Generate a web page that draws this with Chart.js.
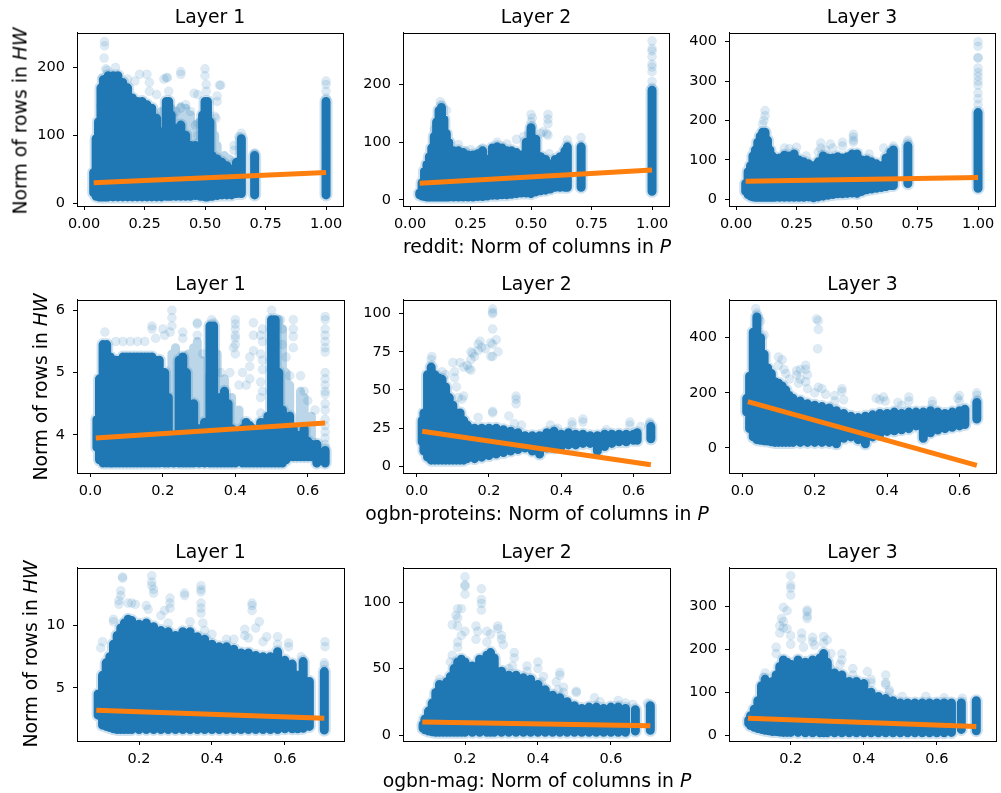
<!DOCTYPE html>
<html>
<head>
<meta charset="utf-8">
<script src="https://cdn.jsdelivr.net/npm/chart.js@4"></script>
<style>
    body { margin: 0; background: #fff; }
    #fig { position: relative; width: 1001px; height: 793px; overflow: hidden; font-family: "DejaVu Sans", sans-serif; color: #000; }
    #fig canvas { position: absolute; }
    .lbl { position: absolute; font-size: 18.8px; white-space: nowrap; transform: translate(-50%, -50%); }
    .lbl.rot { transform: translate(-50%, -50%) rotate(-90deg); }
</style>
</head>
<body>
<div id="fig"></div>
<script>
// =============================================
// DATA: reddit (baris 1)
// strip = kolom padat (x, bawah, atas), dot = titik lepas, fit = garis regresi
// =============================================
const xTicksReddit = [0, 0.25, 0.5, 0.75, 1];
const p1YTicks = [0, 100, 200];
const p1StripX = [.04,.05,.06,.07,.08,.09,.10,.12,.14,.16,.18,.20,.22,.24,.26,.28,.30,.32,.34,.35,.36,.38,.40,.42,.44,.46,.48,.49,.50,.51,.52,.53,.55,.57,.59,.61,.63,.65,.705,1];
const p1StripLo = [15,10,9,9,9,9,9,9,9,9,9,9,9,9,9,9,9,9,10,10,10,10,10,10,10,11,10,10,9,9,10,10,11,12,12,12,14,14,12,12];
const p1StripHi = [45,95,120,170,182,184,188,188,188,178,170,155,150,150,145,140,125,105,150,150,130,110,115,100,85,85,75,130,150,150,120,70,65,60,55,50,60,95,70,150];
const p1SoftX = [.32,.36,.38,.40,.42,.44,.46,.48,.53,.54,.55,.58,.60];
const p1SoftLo = [105,130,110,115,100,85,85,75,70,65,65,55,50];
const p1SoftHi = [135,140,135,142,140,130,115,120,115,100,85,70,65];
const p1DotX = [.085,.085,.083,.09,.095,.13,.075,.07,.066,.26,.23,.27,.27,.34,.345,.33,.35,.40,.40,.50,.50,.505,.505,.47,.455,.565,.56,.55,.55,.545,.54,.40,.42,.44,.38,.46,.47,.47,.65,.64,.65,.62,.62,.705,.705,.705,1,1,1,1,.18,.21,.30];
const p1DotY = [238,232,214,198,196,200,185,143,120,190,190,178,165,185,185,183,165,194,190,198,188,175,165,160,162,174,174,158,150,125,128,140,145,135,135,115,118,100,103,98,90,85,78,74,72,65,180,175,165,155,183,180,160];
const p1FitX = [.04, 1];
const p1FitY = [30, 45];

const p2YTicks = [0, 100, 200];
const p2StripX = [.04,.05,.06,.07,.08,.09,.10,.11,.12,.13,.14,.15,.16,.18,.20,.22,.24,.26,.28,.30,.32,.34,.36,.38,.40,.42,.44,.46,.48,.50,.52,.54,.56,.58,.60,.62,.64,.65,.707,1];
const p2StripLo = [9,7,6,5,5,5,5,5,5,5,5,5,5,5,5,5,5,5,6,6,7,8,8,9,9,10,11,12,12,11,14,16,17,19,22,22,22,22,22,15];
const p2StripHi = [12,30,50,62,75,90,110,135,155,160,140,115,100,85,85,82,78,78,80,85,70,90,92,90,85,85,82,78,100,125,105,75,70,62,70,75,85,92,92,190];
const p2DotX = [1,1,1,1,1,1,1,1,1,.125,.13,.15,.10,.30,.29,.20,.44,.50,.505,.50,.505,.57,.57,.57,.565,.55,.54,.57,.65,.707,.36,.40,.575,.47,.49,.25,.23];
const p2DotY = [275,262,258,248,235,230,222,205,195,170,165,155,122,90,87,96,105,148,142,135,128,148,140,132,115,118,115,112,104,108,100,97,80,110,115,87,85];
const p2FitX = [.04, 1];
const p2FitY = [29, 52];

const p3YTicks = [0, 100, 200, 300, 400];
const p3StripX = [.04,.05,.06,.07,.08,.09,.10,.11,.12,.13,.14,.15,.16,.18,.20,.22,.24,.26,.28,.30,.32,.34,.36,.38,.40,.42,.44,.46,.48,.50,.52,.54,.56,.58,.60,.62,.64,.65,.71,1];
const p3StripLo = [20,12,8,6,5,5,5,5,5,5,5,5,5,5,5,5,5,5,5,6,4,6,8,10,12,14,14,15,16,15,20,24,26,28,30,32,35,35,40,28];
const p3StripHi = [40,70,85,110,125,145,160,170,170,150,125,110,105,105,112,110,115,100,95,90,85,95,110,105,105,108,105,108,115,115,100,100,95,90,85,105,120,125,135,220];
const p3DotX = [1,1,1,1,1,1,1,1,1,1,1,1,.12,.12,.115,.11,.20,.22,.25,.29,.35,.35,.39,.40,.44,.44,.485,.485,.485,.485,.55,.61,.65,.71,.71,.34,.37];
const p3DotY = [400,388,360,358,333,322,312,300,290,270,255,240,225,212,200,190,130,128,132,110,143,130,140,130,145,135,165,158,150,145,115,130,135,150,145,120,125];
const p3FitX = [.04, 1];
const p3FitY = [46, 55];

// =============================================
// DATA: ogbn-proteins (baris 2)
// =============================================
const xTicksProteins = [0, 0.2, 0.4, 0.6];
const p4YTicks = [4, 5, 6];
const p4StripX = [.018,.025,.035,.045,.055,.06,.07,.08,.09,.10,.11,.12,.13,.14,.15,.16,.17,.18,.19,.205,.215,.23,.245,.255,.265,.275,.285,.30,.315,.33,.34,.35,.36,.37,.38,.39,.40,.42,.43,.44,.45,.46,.47,.48,.49,.50,.51,.52,.53,.54,.55,.56,.57,.58,.59,.60,.61,.625,.648];
const p4StripLo = [3.8,3.6,3.55,3.55,3.55,3.55,3.55,3.55,3.55,3.55,3.55,3.55,3.55,3.55,3.55,3.55,3.55,3.55,3.55,3.55,3.55,3.55,3.55,3.55,3.55,3.55,3.55,3.55,3.55,3.55,3.55,3.55,3.55,3.55,3.55,3.55,3.55,3.55,3.55,3.55,3.55,3.55,3.55,3.55,3.55,3.55,3.55,3.55,3.55,3.6,3.65,3.65,3.65,3.65,3.65,3.65,3.65,3.55,3.55];
const p4StripHi = [4.25,4.9,5.45,5.45,5.25,5.15,5.2,5.2,5.25,5.25,5.25,5.25,5.25,5.25,5.25,5.25,5.25,5.2,5.2,5.0,4.6,4.0,5.2,5.25,5.0,4.3,4.5,4.1,4.2,5.75,5.75,4.6,4.6,4.7,4.5,4.1,4.0,4.1,4.2,4.15,4.1,4.0,4.2,4.2,4.3,5.85,5.85,5.0,4.4,4.2,4.3,4.1,3.95,4.0,4.1,3.9,3.85,3.85,3.75];
const p4SoftX = [.225,.235,.27,.285,.295,.305,.315,.35,.37,.39,.41,.52,.53,.54,.55,.58,.59,.61];
const p4SoftLo = [4,4,4.3,4.5,4.1,4.1,4.2,4.6,4.7,4.1,4,5,4.4,4.2,4.3,4,4.1,3.9];
const p4SoftHi = [5.3,5.4,5.3,5.4,5.5,5.2,4.9,5.3,4.9,4.6,4.4,5.85,5.7,5,4.8,4.7,4.6,4.3];
const p4DotX = [.04,.07,.09,.11,.13,.15,.17,.17,.18,.2,.205,.225,.225,.225,.22,.255,.255,.295,.295,.295,.31,.335,.34,.40,.40,.40,.40,.40,.40,.395,.40,.45,.45,.45,.44,.44,.475,.47,.475,.47,.475,.475,.47,.475,.47,.47,.50,.525,.53,.53,.56,.56,.56,.56,.54,.55,.58,.59,.6,.62,.385,.36,.42,.43,.41,.44,.648,.648,.648,.648,.648,.648,.648,.648,.648,.648,.648,.648,.648,.648,.648,.648,.648,.648,.648,.648];
const p4DotY = [5.65,5.5,5.5,5.5,5.5,5.5,5.75,5.7,5.55,5.7,5.6,6,5.88,5.75,5.65,5.65,5.55,5.8,5.78,5.6,5.3,5.85,5.8,5.85,5.78,5.7,5.6,5.55,5.45,5.4,5.3,5.8,5.6,5.35,5.25,5.1,5.7,5.6,5.5,5.3,5.2,5.05,4.85,4.7,4.6,4.35,6,5.85,5.7,5.45,5.85,5.7,5.58,5.4,5.25,4.95,4.95,4.7,4.55,4.4,5,5,5,4.8,4.8,4.9,5.9,5.85,5.7,5.6,5.5,5.4,5.33,5,4.9,4.8,4.7,4.65,4.5,4.4,4.25,4.15,4.05,3.95,3.85,3.8];
const p4FitX = [.015, .648];
const p4FitY = [3.95, 4.19];

const p5YTicks = [0, 25, 50, 75, 100];
const p5StripX = [.015,.02,.03,.04,.05,.06,.07,.08,.09,.10,.11,.12,.13,.14,.16,.18,.20,.22,.24,.26,.28,.30,.32,.34,.36,.38,.40,.42,.44,.46,.48,.50,.52,.54,.56,.58,.60,.61,.648];
const p5StripLo = [16,10,6,4,4,4,4,4,4,4,4,4,4,5,5,6,7,8,9,10,11,12,10,8,12,12,13,14,14,15,15,10,13,15,16,16,17,17,18];
const p5StripHi = [30,35,60,65,60,58,57,52,45,40,35,35,30,27,25,25,25,25,24,23,22,20,20,20,22,23,21,22,21,21,20,20,21,21,21,21,21,22,26];
const p5DotX = [.042,.04,.07,.08,.10,.105,.105,.11,.115,.13,.125,.12,.13,.14,.15,.15,.155,.16,.145,.15,.17,.175,.17,.18,.19,.21,.205,.22,.225,.205,.21,.21,.21,.21,.21,.275,.275,.275,.21,.21,.17,.255,.27,.29,.43,.43,.46,.46,.37,.39,.59,.59,.645,.645,.525,.62];
const p5DotY = [72,70,62,60,68,62,58,52,45,46,44,68,65,66,70,75,74,72,64,63,76,82,80,78,77,80,81,83,75,72,72,103,101,100,90,46,44,41,36,35,32,33,28,27,29,27,31,29,27,25,29,27,29,28,24,26];
const p5FitX = [.015, .648];
const p5FitY = [23, 1];

const p6YTicks = [0, 200, 400];
const p6StripX = [.012,.02,.03,.04,.05,.06,.07,.08,.09,.10,.11,.12,.13,.14,.16,.18,.20,.22,.24,.26,.28,.30,.32,.34,.36,.38,.40,.42,.44,.46,.48,.50,.52,.54,.56,.58,.60,.615,.648];
const p6StripLo = [130,70,40,30,28,26,25,22,20,20,20,20,20,20,20,20,20,20,20,15,35,40,30,15,40,50,60,62,66,70,80,35,55,65,70,75,80,85,105];
const p6StripHi = [180,260,420,475,400,340,290,270,240,235,225,210,190,180,170,160,155,150,145,135,125,115,110,115,120,125,125,130,125,130,130,130,135,130,125,130,135,140,165];
const p6DotX = [.037,.04,.045,.05,.06,.205,.21,.21,.208,.10,.11,.10,.115,.15,.16,.15,.16,.155,.175,.175,.18,.175,.21,.22,.23,.255,.255,.275,.275,.28,.37,.38,.39,.395,.43,.44,.46,.46,.525,.525,.6,.595,.6,.648,.648,.65,.18,.2,.13,.12];
const p6DotY = [505,490,470,460,410,468,462,430,360,330,320,300,285,280,285,265,250,235,300,285,265,240,220,215,195,190,170,215,205,175,180,175,185,170,165,155,185,170,170,158,190,180,170,200,190,175,215,200,250,270];
const p6FitX = [.015, .648];
const p6FitY = [168, -63];

// =============================================
// DATA: ogbn-mag (baris 3)
// =============================================
const xTicksMag = [0.2, 0.4, 0.6];
const p7YTicks = [5, 10];
const p7StripX = [.088,.10,.11,.12,.13,.14,.15,.16,.17,.18,.20,.22,.24,.26,.28,.30,.32,.34,.36,.38,.40,.42,.44,.46,.48,.50,.52,.54,.56,.58,.60,.62,.635,.65,.667,.708];
const p7StripLo = [2.8,2,1.9,1.8,1.7,1.65,1.65,1.65,1.65,1.65,1.65,1.65,1.65,1.65,1.65,1.65,1.65,1.65,1.65,1.65,1.65,1.65,1.65,1.65,1.65,1.65,1.65,1.65,1.65,1.65,1.7,1.7,1.7,1.75,1.9,1.6];
const p7StripHi = [4.5,6,7,7.5,8.5,9.2,9.8,10.2,10.5,10.4,10.1,10.2,9.9,9.6,9.5,9.2,9.5,9.5,9.1,8.9,8.5,8.3,8.3,8.1,7.8,7.8,7.6,7.5,7.5,7.9,7.2,6.9,6,7.1,5.5,6.3];
const p7DotX = [.155,.155,.235,.235,.235,.24,.24,.15,.15,.145,.145,.17,.18,.19,.22,.225,.285,.285,.285,.27,.325,.325,.37,.37,.37,.37,.37,.37,.51,.51,.51,.13,.13,.10,.095,.49,.49,.52,.53,.34,.375,.38,.54,.55,.58,.58,.61,.61,.71,.71,.708,.708,.46,.44,.26,.28,.5,.645,.40];
const p7DotY = [13.9,13.8,14,13.5,13.2,12.9,12.6,12.8,12.4,12,11.7,11.8,11.8,11.7,11.6,11.3,12.2,11.8,11.4,11.2,12.6,12.4,13.2,12.9,12.7,11.8,11.4,11,11.8,11.6,11.2,10.5,10.3,8.7,8.2,9.7,9.2,9.8,10.3,10.3,10.2,9.6,8.7,9.1,9.1,8.5,8.6,8.3,8.7,8.3,7,6.8,8.9,8.9,10.8,10.2,9,7.5,9.3];
const p7FitX = [.083, .708];
const p7FitY = [3.2, 2.55];

const p8YTicks = [0, 50, 100];
const p8StripX = [.085,.09,.10,.11,.12,.13,.14,.15,.16,.17,.18,.19,.20,.22,.24,.26,.27,.28,.30,.32,.34,.36,.38,.40,.42,.44,.46,.48,.50,.52,.54,.56,.58,.60,.62,.64,.667,.708];
const p8StripLo = [5,4,3,2.5,2,2,2,2,2,2,2,2,2,2,2,2,2,2,2,2,2,2,2,2,2,2,2,2,2,2,2,2,2,2,2,2,3,3.5];
const p8StripHi = [8,12,18,24,32,38,36,40,44,50,55,57,55,52,57,60,62,58,48,45,45,43,42,38,34,30,28,25,22,20,21,21,20,21,21,20,19,22];
const p8DotX = [.20,.20,.20,.20,.245,.245,.245,.245,.18,.19,.175,.18,.165,.18,.19,.18,.18,.2,.23,.235,.23,.26,.27,.26,.29,.29,.30,.30,.305,.335,.335,.33,.32,.37,.37,.40,.40,.415,.41,.46,.46,.455,.47,.47,.505,.505,.555,.62,.57,.165,.16,.13,.64,.70,.66,.45];
const p8DotY = [119,113,112,106,110,102,99,94,95,95,90,88,83,82,75,70,66,78,82,78,72,78,76,70,82,80,75,72,68,62,58,52,50,52,48,55,50,44,40,47,45,34,36,32,33,32,28,26,25,60,55,42,24,24,23,40];
const p8FitX = [.083, .708];
const p8FitY = [9.8, 7];

const p9YTicks = [0, 100, 200, 300];
const p9StripX = [.085,.09,.10,.11,.12,.13,.14,.15,.16,.17,.18,.19,.20,.22,.24,.26,.28,.29,.30,.32,.34,.36,.38,.40,.42,.44,.46,.48,.50,.52,.54,.56,.58,.60,.62,.64,.667,.708];
const p9StripLo = [27,22,18,15,13,11,10,8,8,7,6,6,6,6,5,5,5,5,5,5,5,5,5,5,5,5,5,5,5,5,5,5,5,5,5,6,13,10];
const p9StripHi = [35,45,60,80,115,130,120,125,140,160,175,170,165,175,170,175,180,190,170,145,140,125,125,120,100,90,85,80,75,75,75,75,75,75,75,75,75,80];
const p9DotX = [.20,.20,.20,.20,.245,.245,.245,.245,.18,.19,.175,.18,.17,.17,.18,.19,.20,.16,.16,.2,.23,.23,.235,.26,.26,.265,.29,.30,.29,.31,.34,.34,.335,.31,.37,.37,.41,.42,.42,.46,.46,.46,.47,.47,.505,.57,.62,.67,.13,.125];
const p9DotY = [372,350,343,327,292,288,278,272,298,290,272,265,255,238,250,248,232,205,190,212,238,225,205,228,218,210,230,222,215,190,190,175,165,155,155,140,148,130,122,140,122,118,105,100,90,90,87,86,145,135];
const p9FitX = [.083, .708];
const p9FitY = [39, 20];

// =============================================
// DAFTAR PANEL
// =============================================
const panels = [
    { col: 0, row: 0, xMin: -.029, xMax: 1.07, yMin: -4.4, yMax: 251, xTicks: xTicksReddit, digits: 2, yTicks: p1YTicks, sx: p1StripX, lo: p1StripLo, hi: p1StripHi, softX: p1SoftX, softLo: p1SoftLo, softHi: p1SoftHi, dx: p1DotX, dy: p1DotY, fx: p1FitX, fy: p1FitY },
    { col: 1, row: 0, xMin: -.029, xMax: 1.07, yMin: -10.4, yMax: 289, xTicks: xTicksReddit, digits: 2, yTicks: p2YTicks, sx: p2StripX, lo: p2StripLo, hi: p2StripHi, dx: p2DotX, dy: p2DotY, fx: p2FitX, fy: p2FitY },
    { col: 2, row: 0, xMin: -.029, xMax: 1.07, yMin: -17, yMax: 422, xTicks: xTicksReddit, digits: 2, yTicks: p3YTicks, sx: p3StripX, lo: p3StripLo, hi: p3StripHi, dx: p3DotX, dy: p3DotY, fx: p3FitX, fy: p3FitY },
    { col: 0, row: 1, xMin: -.037, xMax: .70, yMin: 3.389, yMax: 6.166, xTicks: xTicksProteins, digits: 1, yTicks: p4YTicks, sx: p4StripX, lo: p4StripLo, hi: p4StripHi, softX: p4SoftX, softLo: p4SoftLo, softHi: p4SoftHi, dx: p4DotX, dy: p4DotY, fx: p4FitX, fy: p4FitY },
    { col: 1, row: 1, xMin: -.038, xMax: .701, yMin: -4.4, yMax: 109, xTicks: xTicksProteins, digits: 1, yTicks: p5YTicks, sx: p5StripX, lo: p5StripLo, hi: p5StripHi, dx: p5DotX, dy: p5DotY, fx: p5FitX, fy: p5FitY },
    { col: 2, row: 1, xMin: -.037, xMax: .701, yMin: -91, yMax: 537, xTicks: xTicksProteins, digits: 1, yTicks: p6YTicks, sx: p6StripX, lo: p6StripLo, hi: p6StripHi, dx: p6DotX, dy: p6DotY, fx: p6FitX, fy: p6FitY },
    { col: 0, row: 2, xMin: .03, xMax: .762, yMin: .726, yMax: 14.62, xTicks: xTicksMag, digits: 1, yTicks: p7YTicks, sx: p7StripX, lo: p7StripLo, hi: p7StripHi, dx: p7DotX, dy: p7DotY, fx: p7FitX, fy: p7FitY },
    { col: 1, row: 2, xMin: .03, xMax: .762, yMin: -4.5, yMax: 125.7, xTicks: xTicksMag, digits: 1, yTicks: p8YTicks, sx: p8StripX, lo: p8StripLo, hi: p8StripHi, dx: p8DotX, dy: p8DotY, fx: p8FitX, fy: p8FitY },
    { col: 2, row: 2, xMin: .031, xMax: .762, yMin: -14, yMax: 390, xTicks: xTicksMag, digits: 1, yTicks: p9YTicks, sx: p9StripX, lo: p9StripLo, hi: p9StripHi, dx: p9DotX, dy: p9DotY, fx: p9FitX, fy: p9FitY }
];

// posisi plot dalam piksel
const plotLefts = [77, 403, 729];
const plotTops = [33, 300, 568];
const plotW = 267;
const plotH = 173;
const marginLeft = 62;
const marginTop = 33;
const marginBottom = 32;
const marginRight = 4;

const BLUE = '#1f77b4';

// =============================================
// HELPER
// =============================================
function toPoints(xs, ys) {
    return xs.map((x, i) => ({ x: x, y: ys[i] }));
}

// kolom padat: tiap kolom jadi satu segmen garis, dipisah titik kosong
function stripPoints(xs, lows, highs) {
    const pts = [];
    xs.forEach((x, i) => {
        pts.push({ x: x, y: lows[i] }, { x: x, y: highs[i] }, { x: x, y: null });
    });
    return pts;
}

function stripDataset(points, color, width) {
    return {
        data: points,
        showLine: true,
        borderColor: color,
        borderWidth: width,
        borderCapStyle: 'round',
        pointRadius: 0,
        spanGaps: false,
        tension: 0
    };
}

const boxPlugin = {
    id: 'box',
    afterDraw(chart) {
        const a = chart.chartArea;
        const ctx = chart.ctx;
        ctx.save();
        ctx.strokeStyle = '#000';
        ctx.lineWidth = 1;
        ctx.strokeRect(Math.round(a.left) + 0.5, Math.round(a.top) + 0.5, Math.round(a.right - a.left), Math.round(a.bottom - a.top));
        ctx.restore();
    }
};

// =============================================
// GAMBAR SEMUA PANEL
// =============================================
const fig = document.getElementById('fig');

panels.forEach(p => {
    const canvas = document.createElement('canvas');
    canvas.width = marginLeft + plotW + marginRight;
    canvas.height = marginTop + plotH + marginBottom;
    canvas.style.left = (plotLefts[p.col] - marginLeft) + 'px';
    canvas.style.top = (plotTops[p.row] - marginTop) + 'px';
    fig.appendChild(canvas);

    const core = stripPoints(p.sx, p.lo, p.hi);
    const datasets = [
        // dataset pertama digambar paling atas
        { data: toPoints(p.fx, p.fy), showLine: true, borderColor: '#ff7f0e', borderWidth: 5, pointRadius: 0, tension: 0 },
        stripDataset(core, BLUE, 9)
    ];
    if (p.softX) {
        datasets.push(stripDataset(stripPoints(p.softX, p.softLo, p.softHi), 'rgba(31,119,180,0.3)', 9));
    }
    datasets.push({
        data: toPoints(p.dx, p.dy),
        pointRadius: 4.5,
        pointBorderWidth: 0.5,
        pointBackgroundColor: 'rgba(31,119,180,0.15)',
        pointBorderColor: 'rgba(31,119,180,0.12)'
    });
    datasets.push(stripDataset(core, 'rgba(31,119,180,0.22)', 13));

    new Chart(canvas, {
        type: 'scatter',
        data: { datasets: datasets },
        options: {
            responsive: false,
            animation: false,
            events: [],
            layout: { autoPadding: false, padding: { left: 0, top: 0, right: marginRight, bottom: 0 } },
            plugins: {
                legend: { display: false },
                tooltip: { enabled: false },
                title: {
                    display: true,
                    fullSize: false,
                    text: 'Layer ' + (p.col + 1),
                    color: '#000',
                    font: { family: 'DejaVu Sans', size: 18.8, weight: 'normal', lineHeight: 1.2 },
                    padding: { top: 7, bottom: 3.4 }
                }
            },
            scales: {
                x: {
                    type: 'linear',
                    min: p.xMin,
                    max: p.xMax,
                    afterBuildTicks: s => { s.ticks = p.xTicks.map(v => ({ value: v })); },
                    afterFit: s => { s.height = marginBottom; },
                    grid: { drawOnChartArea: false, color: '#000', tickLength: 4 },
                    border: { color: '#000' },
                    ticks: {
                        color: '#000',
                        maxRotation: 0,
                        autoSkip: false,
                        padding: 5.5,
                        font: { family: 'DejaVu Sans', size: 14.5 },
                        callback: v => v.toFixed(p.digits)
                    }
                },
                y: {
                    type: 'linear',
                    min: p.yMin,
                    max: p.yMax,
                    afterBuildTicks: s => { s.ticks = p.yTicks.map(v => ({ value: v })); },
                    afterFit: s => { s.width = marginLeft; },
                    grid: { drawOnChartArea: false, color: '#000', tickLength: 4 },
                    border: { color: '#000' },
                    ticks: {
                        color: '#000',
                        autoSkip: false,
                        padding: 8,
                        font: { family: 'DejaVu Sans', size: 14.5 },
                        callback: v => String(v)
                    }
                }
            }
        },
        plugins: [boxPlugin]
    });
});

// =============================================
// LABEL SUMBU (ada huruf miring, jadi pakai HTML)
// =============================================
const yLabels = [[20, 121], [40, 387], [30, 654]];
const xLabels = [
    ['reddit: Norm of columns in ', 537, 246],
    ['ogbn-proteins: Norm of columns in ', 537, 513],
    ['ogbn-mag: Norm of columns in ', 537, 780]
];

yLabels.forEach(pos => {
    const el = document.createElement('div');
    el.className = 'lbl rot';
    el.style.left = pos[0] + 'px';
    el.style.top = pos[1] + 'px';
    el.innerHTML = 'Norm of rows in <i>HW</i>';
    fig.appendChild(el);
});

xLabels.forEach(item => {
    const el = document.createElement('div');
    el.className = 'lbl';
    el.style.left = item[1] + 'px';
    el.style.top = item[2] + 'px';
    el.innerHTML = item[0] + '<i>P</i>';
    fig.appendChild(el);
});
</script>
</body>
</html>
